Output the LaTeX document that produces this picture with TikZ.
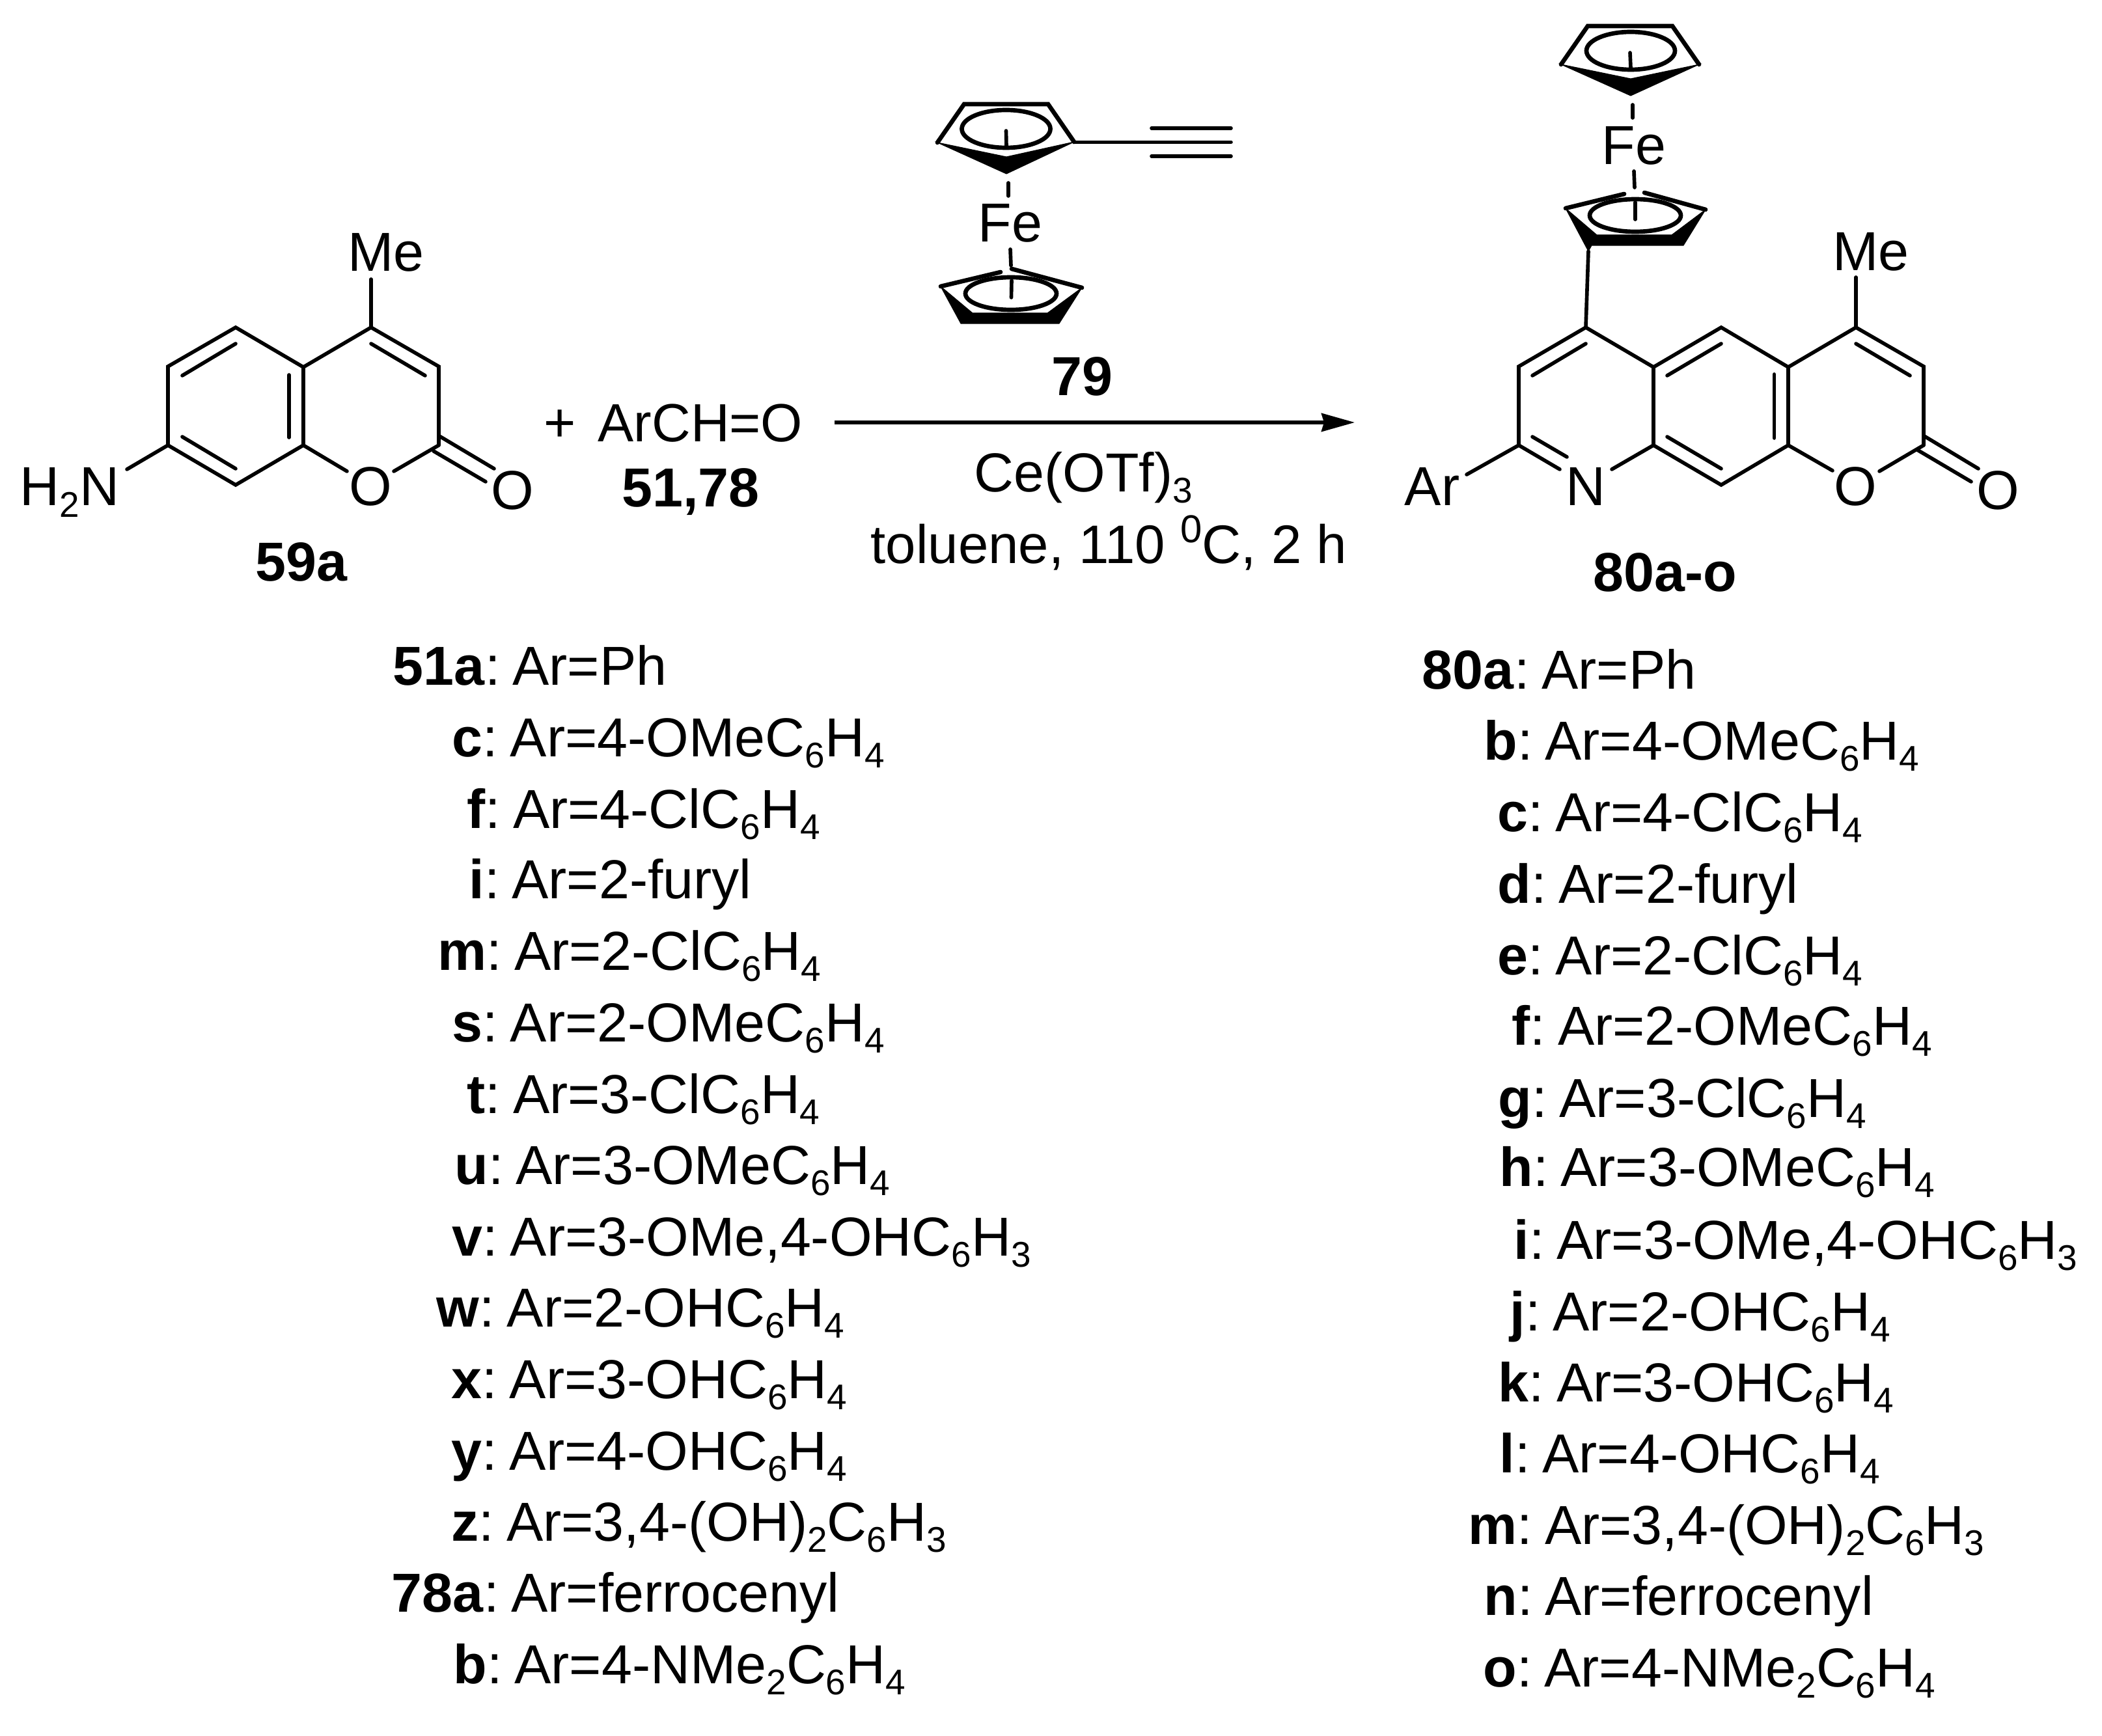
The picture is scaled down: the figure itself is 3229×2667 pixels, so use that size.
\documentclass[tikz,border=0pt]{standalone}
\usepackage{fontspec}
\setmainfont{Liberation Sans}
\usetikzlibrary{arrows.meta}

\newcommand{\chemsub}[1]{\raisebox{-5pt}{\fontsize{15.6}{16}\selectfont #1}}
\newcommand{\chemsup}[1]{\raisebox{9pt}{\fontsize{17}{18}\selectfont #1}}
\tikzset{
  bond/.style={line width=1.6pt, line cap=round, line join=miter},
  cpring/.style={line width=1.9pt, line join=miter, line cap=round},
  wedge/.style={fill=black, draw=black, line width=0.3pt, line join=miter},
}

\begin{document}
\begin{tikzpicture}[x=0.01cm,y=-0.01cm]
    \tikzstyle{every node}=[font=\fontsize{24}{28}\selectfont\frenchspacing, inner sep=0pt, anchor=base]
    \useasboundingbox (0,0) rectangle (3229,2667);

    % coumarin 59a
    \coordinate (a1) at (362,503);
    \coordinate (a2) at (258,563);
    \coordinate (a3) at (258,684);
    \coordinate (a4) at (362,745);
    \coordinate (a5) at (466,684);
    \coordinate (a6) at (466,564);
    \coordinate (a7) at (570,503);
    \coordinate (a8) at (674,563);
    \coordinate (a9) at (674,684);
    \node (meA) at (593,417) {Me};
    \node (nhA) at (107,777) {H\chemsub{2}N};
    \node (oA) at (569,776) {O};
    \node (coA) at (787,782) {O};
    \node (labA) at (463,892) {\textbf{59a}};
    \draw[bond] (a6) -- (a1) -- (a2) -- (a3) -- (a4) -- (a5) -- cycle;
    \draw[bond] (a6) -- (a7) -- (a8) -- (a9);
    \draw[bond] (a7) -- (570,429);
    \draw[bond] (a3) -- (195,721);
    \draw[bond] (a5) -- (533,724);
    \draw[bond] (605,724) -- (a9);
    \draw[bond] (675,670) -- (759,720);
    \draw[bond] (666,693) -- (746,740);
    \draw[bond] (280,577) -- (362,528);
    \draw[bond] (444,576) -- (444,672);
    \draw[bond] (280,671) -- (362,720);
    \draw[bond] (570,528) -- (653,577);

    % aldehyde and reaction arrow
    \node (plus) at (860,679) {+};
    \node[anchor=base west, font=\fontsize{23.5}{28}\selectfont] (aldehyde) at (918,679) {ArCH=O};
    \node (labB) at (1061,778) {\textbf{51,78}};
    \coordinate (arrowS) at (1282,649);
    \coordinate (arrowE) at (2081,649);
    \draw[line width=1.5pt, -{Stealth[length=0.51cm,width=0.28cm,inset=0.04cm]}] (arrowS) -- (arrowE);
    \node (cat) at (1664,755) {Ce(OTf)\chemsub{3}};
    \node[anchor=base west, font=\fontsize{23.7}{28}\selectfont\frenchspacing] (cond) at (1337,865) {toluene, 110 \chemsup{0}C, 2 h};

    % ethynylferrocene 79
    \fill[wedge] (1440,219) -- (1546,241) -- (1650,218) -- (1546,267) -- cycle;
    \draw[cpring] (1440,219) -- (1481,160) -- (1610,160) -- (1650,218);
    \draw[cpring] (1545.5,198) ellipse (68 and 29);
    \draw[bond] (1545.5,201) -- (1546,224);
    \draw[bond] (1650,218.5) -- (1891,218.5);
    \draw[bond] (1769,197) -- (1891,197);
    \draw[bond] (1769,240) -- (1891,240);
    \draw[bond] (1549,281) -- (1549,301);
    \node (feA) at (1552,372) {Fe};
    \draw[bond] (1552,383) -- (1553,408);
    \fill[wedge] (1445,440) -- (1494,481) -- (1609,481) -- (1662,442) -- (1627,497) -- (1476,497) -- cycle;
    \draw[cpring] (1445,440) -- (1537,418);
    \draw[cpring] (1554,413) -- (1662,442);
    \draw[cpring] (1553,451) ellipse (70 and 25);
    \draw[bond] (1554,431) -- (1553.5,457);
    \node (labC) at (1662,607) {\textbf{79}};

    % product 80
    \fill[wedge] (2398,99) -- (2505,121) -- (2610,99) -- (2505,147) -- cycle;
    \draw[cpring] (2398,99) -- (2439,40) -- (2569,40) -- (2610,99);
    \draw[cpring] (2505,78) ellipse (68 and 29);
    \draw[bond] (2504,81) -- (2505,104);
    \draw[bond] (2508,161) -- (2508,181);
    \node (feB) at (2510,253) {Fe};
    \draw[bond] (2510,263) -- (2511,288);
    \fill[wedge] (2405,320) -- (2453,361) -- (2568,361) -- (2620,322) -- (2586,377) -- (2445,377) -- (2440,386) -- cycle;
    \draw[cpring] (2405,320) -- (2495,298);
    \draw[cpring] (2526,296) -- (2620,322);
    \draw[cpring] (2512,331) ellipse (70 and 25);
    \draw[bond] (2512,311) -- (2512,337);

    \coordinate (p1) at (2436,503);
    \coordinate (p2) at (2333,563);
    \coordinate (p3) at (2333,684);
    \coordinate (p4) at (2540,684);
    \coordinate (p5) at (2540,564);
    \coordinate (p6) at (2644,503);
    \coordinate (p7) at (2747,564);
    \coordinate (p8) at (2747,684);
    \coordinate (p9) at (2644,745);
    \coordinate (p10) at (2851,503);
    \coordinate (p11) at (2955,563);
    \coordinate (p12) at (2955,684);
    \node (meB) at (2874,416) {Me};
    \node (arB) at (2200,776) {Ar};
    \node (nB) at (2436,776) {N};
    \node (oB) at (2850,776) {O};
    \node (coB) at (3069,782) {O};
    \node (labD) at (2558,908) {\textbf{80a-o}};
    \draw[bond] (p5) -- (p1) -- (p2) -- (p3);
    \draw[bond] (p1) -- (2440,386);
    \draw[bond] (p3) -- (2253,729);
    \draw[bond] (p3) -- (2396,721);
    \draw[bond] (2354,671) -- (2407,702);
    \draw[bond] (2476,721) -- (p4);
    \draw[bond] (p4) -- (p5) -- (p6) -- (p7) -- (p8) -- (p9) -- cycle;
    \draw[bond] (p7) -- (p10) -- (p11) -- (p12);
    \draw[bond] (p10) -- (2851,426);
    \draw[bond] (p8) -- (2815,723);
    \draw[bond] (2887,724) -- (p12);
    \draw[bond] (2956,670) -- (3039,720);
    \draw[bond] (2945,691) -- (3028,740);
    \draw[bond] (2354,577) -- (2436,528);
    \draw[bond] (2561,577) -- (2644,528);
    \draw[bond] (2725.5,575) -- (2725.5,673);
    \draw[bond] (2561,671) -- (2644,720);
    \draw[bond] (2851,528) -- (2934,577);

    % substituent lists
    \foreach \bx/\by/\lab/\rest in {
      603/1052/51a/Ar=Ph,
      694/1162/c/Ar=4-OMeC\chemsub{6}H\chemsub{4},
      717/1272/f/Ar=4-ClC\chemsub{6}H\chemsub{4},
      720/1380/i/Ar=2-furyl,
      672/1490/m/Ar=2-ClC\chemsub{6}H\chemsub{4},
      694/1600/s/Ar=2-OMeC\chemsub{6}H\chemsub{4},
      717/1710/t/Ar=3-ClC\chemsub{6}H\chemsub{4},
      698/1819/u/Ar=3-OMeC\chemsub{6}H\chemsub{4},
      694/1929/v/{Ar=3-OMe,4-OHC\chemsub{6}H\chemsub{3}},
      670/2038/w/Ar=2-OHC\chemsub{6}H\chemsub{4},
      693/2148/x/Ar=3-OHC\chemsub{6}H\chemsub{4},
      693/2258/y/Ar=4-OHC\chemsub{6}H\chemsub{4},
      693/2367/z/{Ar=3,4-(OH)\chemsub{2}C\chemsub{6}H\chemsub{3}},
      601/2476/78a/Ar=ferrocenyl,
      696/2586/b/Ar=4-NMe\chemsub{2}C\chemsub{6}H\chemsub{4}}{
      \node[anchor=base west] (left\by) at (\bx,\by) {\textbf{\lab}:\hspace{-1.3pt} \rest};
    }
    \foreach \bx/\by/\lab/\rest in {
      2184/1058/80a/Ar=Ph,
      2279/1167/b/Ar=4-OMeC\chemsub{6}H\chemsub{4},
      2300/1277/c/Ar=4-ClC\chemsub{6}H\chemsub{4},
      2300/1387/d/Ar=2-furyl,
      2300/1497/e/Ar=2-ClC\chemsub{6}H\chemsub{4},
      2322/1605/f/Ar=2-OMeC\chemsub{6}H\chemsub{4},
      2301/1716/g/Ar=3-ClC\chemsub{6}H\chemsub{4},
      2303/1822/h/Ar=3-OMeC\chemsub{6}H\chemsub{4},
      2325/1934/i/{Ar=3-OMe,4-OHC\chemsub{6}H\chemsub{3}},
      2319/2044/j/Ar=2-OHC\chemsub{6}H\chemsub{4},
      2301/2153/k/Ar=3-OHC\chemsub{6}H\chemsub{4},
      2303/2262/l/Ar=4-OHC\chemsub{6}H\chemsub{4},
      2255/2372/m/{Ar=3,4-(OH)\chemsub{2}C\chemsub{6}H\chemsub{3}},
      2279/2481/n/Ar=ferrocenyl,
      2278/2591/o/Ar=4-NMe\chemsub{2}C\chemsub{6}H\chemsub{4}}{
      \node[anchor=base west] (right\by) at (\bx,\by) {\textbf{\lab}:\hspace{-1.3pt} \rest};
    }
\end{tikzpicture}
\end{document}
